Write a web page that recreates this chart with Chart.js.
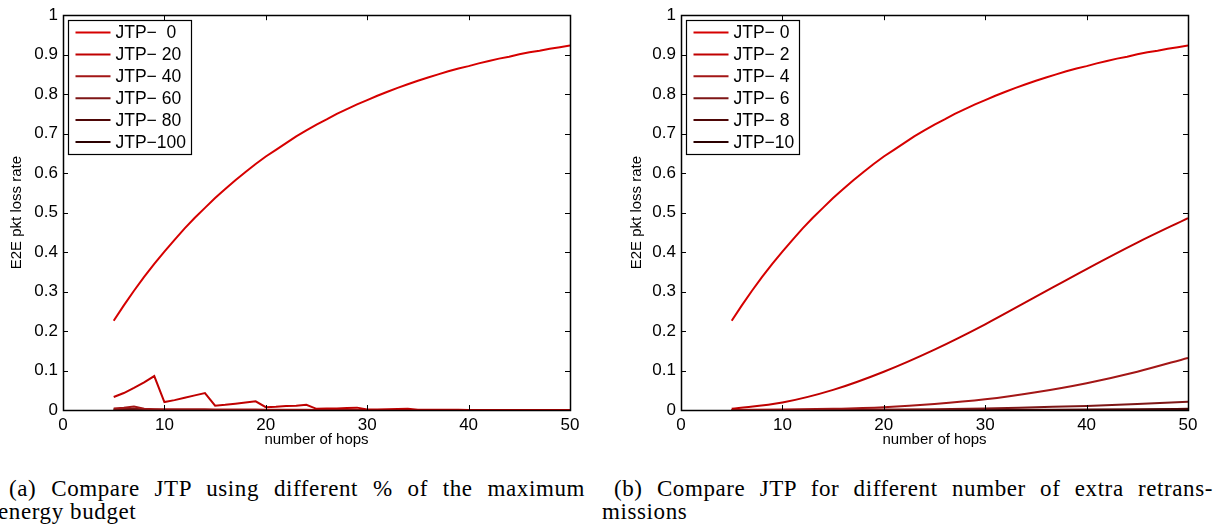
<!DOCTYPE html>
<html>
<head>
<meta charset="utf-8">
<script src="https://cdn.jsdelivr.net/npm/chart.js@4.4.0/dist/chart.umd.min.js"></script>
<style>
body { margin:0; background:#fff; width:1226px; height:529px; overflow:hidden; position:relative; }
#chartA { position:absolute; left:0; top:0; }
#chartB { position:absolute; left:618px; top:0; }
.cap { position:absolute; font-family:"Liberation Serif", "Times New Roman", serif; font-size:23px; line-height:23px; letter-spacing:0.6px; color:#000; white-space:nowrap; }
.just { white-space:normal; text-align:justify; text-align-last:justify; }
</style>
</head>
<body>
<canvas id="chartA" width="600" height="450"></canvas>
<canvas id="chartB" width="600" height="450"></canvas>
<div class="cap just" style="left:9px; top:477px; width:576px;">(a) Compare JTP using different % of the maximum</div>
<div class="cap" style="left:-2px; top:500px;">energy budget</div>
<div class="cap just" style="left:614px; top:477px; width:599px;">(b) Compare JTP for different number of extra retrans-</div>
<div class="cap" style="left:602px; top:500px;">missions</div>
<script>
// hops
const hopsA = [5,6,7,8,9,10,11,12,13,14,15,16,17,18,19,20,21,22,23,24,25,26,27,28,29,30,
  31,32,33,34,35,36,37,38,39,40,41,42,43,44,45,46,47,48,49,50];
const hopsB = [5,10,15,20,25,30,35,40,45,50];

// JTP-0 (same curve in both plots)
const loss0 = [0.226,0.265,0.302,0.337,0.370,0.401,0.431,0.460,0.487,0.512,0.537,0.560,0.582,0.603,0.623,
  0.642,0.659,0.676,0.693,0.708,0.723,0.736,0.750,0.762,0.774,0.785,0.796,0.806,0.816,0.825,
  0.834,0.842,0.850,0.858,0.865,0.871,0.878,0.884,0.890,0.895,0.901,0.906,0.910,0.915,0.919,0.923];

// (a) % of max energy budget
const lossE20 = [0.033,0.043,0.056,0.070,0.086, 0.020,0.025,0.031,0.037,0.043, 0.011,0.013,0.016,0.019,0.022,
  0.007,0.008,0.010,0.011,0.013, 0.003,0.004,0.004,0.005,0.006, 0.001,0.0015,0.002,0.0025,0.003,
  0.0004,0.0005,0.0006,0.0007,0.0008, 0.0002,0.0002,0.0002,0.0003,0.0003, 0.0001,0.0001,0.0001,0.0001,0.0001, 0];
const lossE40 = [0.004,0.006,0.009,0.003,0.002, 0.002,0.002,0.002,0.002,0.002, 0.001,0.001,0.001,0.001,0.001,
  0.0005,0.0005,0.0005,0.0005,0.0005, 0.0002,0.0002,0.0002,0.0002,0.0002, 0,0,0,0,0, 0,0,0,0,0, 0,0,0,0,0, 0,0,0,0,0, 0];
const lossE60 = [0.002,0.003,0.003,0.001,0.001, 0,0,0,0,0, 0,0,0,0,0, 0,0,0,0,0, 0,0,0,0,0, 0,0,0,0,0, 0,0,0,0,0, 0,0,0,0,0, 0,0,0,0,0, 0];
const lossE80 = [0.001,0.001,0.001,0,0, 0,0,0,0,0, 0,0,0,0,0, 0,0,0,0,0, 0,0,0,0,0, 0,0,0,0,0, 0,0,0,0,0, 0,0,0,0,0, 0,0,0,0,0, 0];
const lossE100 = [0,0,0,0,0, 0,0,0,0,0, 0,0,0,0,0, 0,0,0,0,0, 0,0,0,0,0, 0,0,0,0,0, 0,0,0,0,0, 0,0,0,0,0, 0,0,0,0,0, 0];

// (b) extra retransmissions
const lossR2 = [0.003,0.019,0.051,0.097,0.153,0.217,0.287,0.357,0.424,0.486];
const lossR4 = [0.0001,0.001,0.003,0.007,0.015,0.027,0.045,0.068,0.097,0.132];
const lossR6 = [0,0,0.0003,0.001,0.002,0.004,0.007,0.010,0.015,0.021];
const lossR8 = [0,0,0,0,0.0002,0.0004,0.0008,0.0012,0.002,0.003];
const lossR10 = [0,0,0,0,0,0,0.0001,0.0002,0.0003,0.0004];

const labelsA = ['JTP\u2212  0','JTP\u2212 20','JTP\u2212 40','JTP\u2212 60','JTP\u2212 80','JTP\u2212100'];
const labelsB = ['JTP\u2212 0','JTP\u2212 2','JTP\u2212 4','JTP\u2212 6','JTP\u2212 8','JTP\u221210'];
const colors = ['#d60000','#c00000','#a31616','#7e1616','#4e0707','#2a0000'];

const FONT = '"Liberation Sans", Arial, Helvetica, sans-serif';

function pts(xs, ys) {
  return xs.map((h, i) => ({ x: h, y: ys[i] }));
}

// box, inward ticks on all sides, legend inside the axes
const framePlugin = {
  id: 'frame',
  afterDatasetsDraw(chart) {
    const { ctx, chartArea: a, scales: { x, y } } = chart;
    ctx.save();
    ctx.strokeStyle = '#000';
    ctx.lineWidth = 1;
    ctx.beginPath();
    x.ticks.forEach(t => {
      const px = Math.round(x.getPixelForValue(t.value)) + 0.5;
      ctx.moveTo(px, a.bottom); ctx.lineTo(px, a.bottom - 5);
      ctx.moveTo(px, a.top); ctx.lineTo(px, a.top + 5);
    });
    y.ticks.forEach(t => {
      const py = Math.round(y.getPixelForValue(t.value)) + 0.5;
      ctx.moveTo(a.left, py); ctx.lineTo(a.left + 5, py);
      ctx.moveTo(a.right, py); ctx.lineTo(a.right - 5, py);
    });
    ctx.stroke();
    ctx.lineWidth = 1.5;
    ctx.strokeRect(Math.round(a.left) + 0.5, Math.round(a.top) + 0.5, Math.round(a.width), Math.round(a.height));

    // legend
    const ds = chart.data.datasets;
    ctx.font = '17.5px ' + FONT;
    let tw = 0;
    ds.forEach(d => { tw = Math.max(tw, ctx.measureText(d.label).width); });
    const bx = Math.round(a.left) + 5.5, by = Math.round(a.top) + 5.5;
    const bw = Math.round(47 + tw + 5), bh = 134;
    ctx.fillStyle = '#fff';
    ctx.fillRect(bx, by, bw, bh);
    ctx.lineWidth = 1.2;
    ctx.strokeStyle = '#000';
    ctx.strokeRect(bx, by, bw, bh);
    ctx.textBaseline = 'middle';
    ds.forEach((d, i) => {
      const ry = by + 12 + i * 21.9;
      ctx.strokeStyle = d.borderColor;
      ctx.lineWidth = 2;
      ctx.beginPath();
      ctx.moveTo(bx + 7, ry); ctx.lineTo(bx + 42, ry);
      ctx.stroke();
      ctx.fillStyle = '#000';
      ctx.fillText(d.label, bx + 47, ry + 1);
    });
    ctx.restore();
  }
};

function makeChart(id, series, titlePad) {
  const ctx = document.getElementById(id).getContext('2d');
  return new Chart(ctx, {
    type: 'line',
    data: {
      datasets: series.map((s, i) => ({
        label: s.label,
        data: pts(s.x, s.y),
        borderColor: colors[i],
        backgroundColor: colors[i],
        borderWidth: 2,
        pointRadius: 0,
        fill: false,
        cubicInterpolationMode: s.smooth ? 'monotone' : 'default',
        tension: 0
      }))
    },
    options: {
      responsive: false,
      animation: false,
      layout: { padding: { top: 10, right: 30, bottom: 0, left: 0 } },
      plugins: { legend: { display: false }, tooltip: { enabled: false } },
      scales: {
        x: {
          type: 'linear', min: 0, max: 50,
          grid: { display: false, drawTicks: false }, border: { display: false },
          ticks: { stepSize: 10, padding: 5, color: '#000', font: { family: FONT, size: 17 } },
          title: { display: true, text: 'number of hops', color: '#000', padding: { top: 0, bottom: 1 },
                   font: { family: FONT, size: 15 } },
          afterFit: s => { s.height = 40; }
        },
        y: {
          min: 0, max: 1,
          grid: { display: false, drawTicks: false }, border: { display: false },
          ticks: { stepSize: 0.1, padding: 5, color: '#000', font: { family: FONT, size: 17 },
                   callback: v => String(+v.toFixed(1)) },
          title: { display: true, text: 'E2E pkt loss rate', color: '#000', padding: { top: titlePad, bottom: 0 },
                   font: { family: FONT, size: 15 } },
          afterFit: s => { s.width = 63; }
        }
      }
    },
    plugins: [framePlugin]
  });
}

makeChart('chartA', [
  { label: labelsA[0], x: hopsA, y: loss0 },
  { label: labelsA[1], x: hopsA, y: lossE20 },
  { label: labelsA[2], x: hopsA, y: lossE40 },
  { label: labelsA[3], x: hopsA, y: lossE60 },
  { label: labelsA[4], x: hopsA, y: lossE80 },
  { label: labelsA[5], x: hopsA, y: lossE100 }
], 8);

makeChart('chartB', [
  { label: labelsB[0], x: hopsA, y: loss0 },
  { label: labelsB[1], x: hopsB, y: lossR2, smooth: true },
  { label: labelsB[2], x: hopsB, y: lossR4, smooth: true },
  { label: labelsB[3], x: hopsB, y: lossR6, smooth: true },
  { label: labelsB[4], x: hopsB, y: lossR8, smooth: true },
  { label: labelsB[5], x: hopsB, y: lossR10, smooth: true }
], 10);
</script>
</body>
</html>
